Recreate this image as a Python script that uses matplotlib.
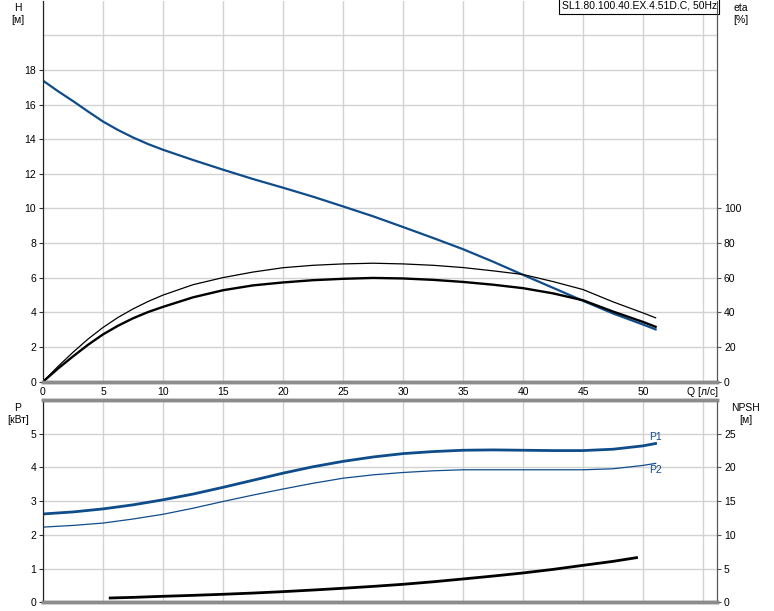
import matplotlib

matplotlib.use("Agg")
import matplotlib.pyplot as plt

plt.rcParams["font.family"] = ["Liberation Sans", "DejaVu Sans"]
plt.rcParams["font.size"] = 7.5

BLUE = "#0f4c8a"
GRID = "#d2d2d2"

# pump curve (H) in m
q_h = [0, 1.25, 2.5, 3.75, 5, 6.25, 7.5, 8.75, 10, 12.5, 15, 17.5, 20, 22.5,
       25, 27.5, 30, 32.5, 35, 37.5, 40, 42.5, 45, 47.5, 50, 51.05]
h = [17.38, 16.77, 16.2, 15.6, 15.02, 14.53, 14.1, 13.72, 13.39, 12.8, 12.24,
     11.7, 11.2, 10.68, 10.12, 9.55, 8.93, 8.3, 7.65, 6.93, 6.17, 5.42, 4.67,
     3.94, 3.3, 3.02]

# efficiency curves in %
q_eta = [0, 1.25, 2.5, 3.75, 5, 6.25, 7.5, 8.75, 10, 12.5, 15, 17.5, 20, 22.5,
         25, 27.5, 30, 32.5, 35, 37.5, 40, 42.5, 45, 47.5, 50, 51.05]
eta_thin = [0, 8.8, 17.0, 24.6, 31.3, 37.1, 42.0, 46.3, 50.0, 56.0, 60.1, 63.3,
            65.8, 67.2, 68.0, 68.4, 68.0, 67.2, 65.9, 64.0, 61.9, 57.8, 53.2,
            46.1, 39.7, 36.9]
eta_thick = [0, 7.6, 14.6, 21.3, 27.3, 32.3, 36.6, 40.2, 43.2, 48.7, 52.8,
             55.6, 57.3, 58.6, 59.4, 59.9, 59.6, 58.8, 57.6, 56.0, 54.0, 51.0,
             47.0, 40.5, 34.5, 31.7]

# power curves in kW
q_p = [0, 2.5, 5, 7.5, 10, 12.5, 15, 17.5, 20, 22.5, 25, 27.5, 30, 32.5, 35,
       37.5, 40, 42.5, 45, 47.5, 50, 51.05]
p1 = [2.62, 2.68, 2.77, 2.89, 3.04, 3.21, 3.41, 3.62, 3.83, 4.02, 4.18, 4.31,
      4.41, 4.47, 4.51, 4.52, 4.51, 4.50, 4.50, 4.54, 4.64, 4.71]
p2 = [2.23, 2.28, 2.35, 2.47, 2.61, 2.79, 2.99, 3.18, 3.36, 3.53, 3.68, 3.78,
      3.85, 3.90, 3.93, 3.93, 3.93, 3.93, 3.93, 3.96, 4.06, 4.12]

# NPSH in m
q_npsh = [5.6, 7.5, 10, 12.5, 15, 17.5, 20, 22.5, 25, 27.5, 30, 32.5, 35, 37.5,
          40, 42.5, 45, 47.5, 49.46]
npsh = [0.64, 0.73, 0.89, 1.03, 1.19, 1.37, 1.58, 1.82, 2.08, 2.36, 2.67, 3.04,
        3.46, 3.89, 4.35, 4.88, 5.48, 6.07, 6.62]

x_ticks = list(range(0, 56, 5))
x_labels = [str(t) for t in x_ticks[:-1]] + ["Q [л/с]"]

fig = plt.figure(figsize=(7.74, 6.11), dpi=100)
left, width = 43 / 774, 674 / 774
ax1 = fig.add_axes([left, 1 - 381.7 / 611, width, 381.7 / 611 - 0.001])
ax2 = fig.add_axes([left, 1 - 602.3 / 611, width, 202.3 / 611])


def style(ax, twin):
    ax.set_xlim(0, 674 / 12)
    ax.set_xticks(x_ticks)
    ax.grid(True, color=GRID, linewidth=1)
    ax.set_axisbelow(True)
    ax.tick_params(axis="x", length=0, pad=4)
    ax.tick_params(axis="y", length=3, width=0.8, pad=2, color="#333333")
    twin.tick_params(axis="y", length=3, width=0.8, pad=2, color="#555555")
    for a in (ax, twin):
        a.spines["left"].set_color("#222222")
        a.spines["right"].set_color("#555555")
        a.spines["bottom"].set_color("#8c8c8c")
        a.spines["bottom"].set_linewidth(2.5)
        a.spines["top"].set_color("#8c8c8c")
        a.spines["top"].set_linewidth(2.5)


# top panel: H and eta
ax1t = ax1.twinx()
style(ax1, ax1t)
ax1.set_ylim(0, 22)
ax1.set_yticks(range(0, 21, 2))
ax1.set_yticklabels([str(v) for v in range(0, 19, 2)] + [""])
ax1.yaxis.get_major_ticks()[-1].tick1line.set_visible(False)
ax1.set_xticklabels(x_labels)
ax1t.set_ylim(0, 220)
ax1t.set_yticks(range(0, 101, 20))
ax1t.spines["top"].set_visible(False)
ax1.spines["top"].set_visible(False)

ax1t.plot(q_eta, eta_thin, color="black", linewidth=0.9)
ax1t.plot(q_eta, eta_thick, color="black", linewidth=1.7)
ax1.plot(q_h, h, color=BLUE, linewidth=1.6, zorder=5)

ax1.text(0.9995, 0.999, "SL1.80.100.40.EX.4.51D.C, 50Hz", transform=ax1.transAxes,
         ha="right", va="top", fontsize=7.5, zorder=10,
         bbox=dict(boxstyle="square,pad=0.25", facecolor="white",
                   edgecolor="black", linewidth=0.8))

# bottom panel: P1, P2 and NPSH
ax2t = ax2.twinx()
style(ax2, ax2t)
ax2.set_ylim(0, 6)
ax2.set_yticks(range(0, 7))
ax2.set_yticklabels([str(v) for v in range(0, 6)] + [""])
ax2.yaxis.get_major_ticks()[-1].tick1line.set_visible(False)
ax2.set_xticklabels([])
ax2t.set_ylim(0, 30)
ax2t.set_yticks(range(0, 26, 5))

ax2.plot(q_p, p1, color=BLUE, linewidth=2.0)
ax2.plot(q_p, p2, color=BLUE, linewidth=0.9)
ax2t.plot(q_npsh, npsh, color="black", linewidth=2.0)
ax2.text(q_p[-1] - 0.5, p1[-1] + 0.05, "P1", color=BLUE, ha="left", va="bottom")
ax2.text(q_p[-1] - 0.5, p2[-1] - 0.05, "P2", color=BLUE, ha="left", va="top")

# axis name labels
fig.text(18 / 774, 1 - 3 / 611, "H\n[м]", ha="center", va="top", linespacing=1.3)
fig.text(741 / 774, 1 - 3 / 611, "eta\n[%]", ha="center", va="top", linespacing=1.3)
fig.text(18 / 774, 1 - 403 / 611, "P\n[кВт]", ha="center", va="top", linespacing=1.3)
fig.text(746 / 774, 1 - 403 / 611, "NPSH\n[м]", ha="center", va="top", linespacing=1.3)

fig.savefig("out.png", dpi=100)
plt.close(fig)
